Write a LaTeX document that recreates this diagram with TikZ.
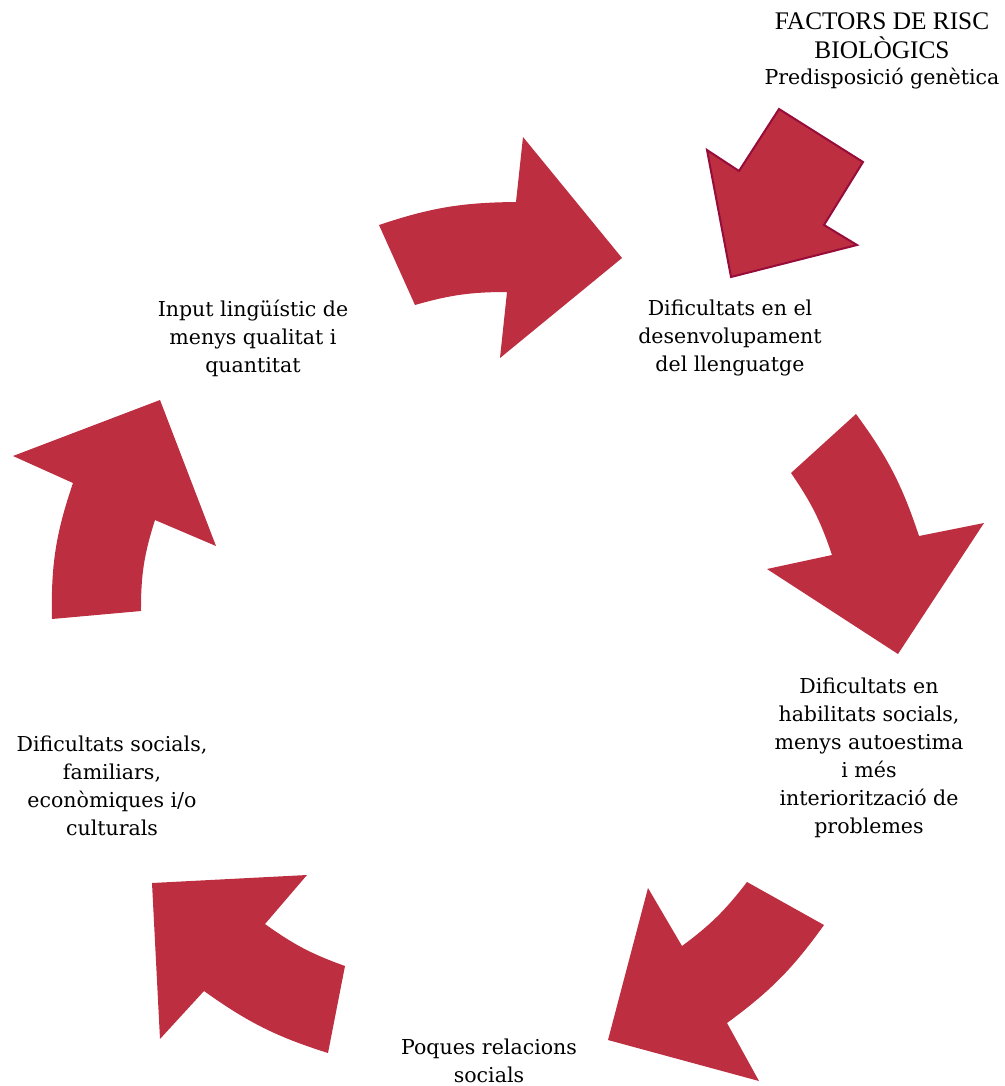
\documentclass[tikz,border=0pt]{standalone}
\usepackage{fontspec}
\setmainfont{DejaVu Serif}
\newfontfamily\timesfont{Liberation Serif}
\usepackage{tikz}
\definecolor{arrowred}{RGB}{188,46,64}
\definecolor{arrowedge}{RGB}{150,12,58}

\begin{document}
\begin{tikzpicture}[x=0.75pt,y=-0.75pt,
    label/.style={align=center,inner sep=0pt,font=\fontsize{15.4}{21}\selectfont},
    block/.style={fill=arrowred}]
    \useasboundingbox (0,0) rectangle (1005,1086);
    % curved arrows of the cycle
    \fill [block] (379,225) to[bend left=9] (516,202) -- (523,137) -- (622,258) -- (500,358) -- (507,292) to[bend right=8] (415,305) -- cycle;
    \fill [block] (856,414) to[bend left=9] (919,536) -- (984,523) -- (898,654) -- (767,569) -- (832,555) to[bend right=8] (791,473) -- cycle;
    \fill [block] (824,925) to[bend left=9] (727,1023) -- (759,1081) -- (608,1040) -- (648,888) -- (682,946) to[bend right=8] (747,882) -- cycle;
    \fill [block] (328,1053) to[bend left=9] (204,991) -- (160,1039) -- (152,883) -- (307,875) -- (265,924) to[bend right=8] (345,966) -- cycle;
    \fill [block] (52,619) to[bend left=10] (73,483) -- (13,456) -- (160,400) -- (216,546) -- (155,520) to[bend right=9] (141,611) -- cycle;
    % straight arrow from the risk factors
    \draw [block,draw=arrowedge,line width=1.5pt] (779,109) -- (863,162) -- (824,225) -- (857,245) -- (731,277) -- (707,150) -- (739,171) -- cycle;
    % texts
    \node [label,font=\timesfont\fontsize{19}{21.75}\selectfont] (risc) at (882,36) {FACTORS DE RISC\\BIOLÒGICS};
    \node [label] (predisp) at (882,79) {Predisposició genètica};
    \node [label] (llenguatge) at (730,338) {Dificultats en el\\desenvolupament\\del llenguatge};
    \node [label] (habilitats) at (869,758) {Dificultats en\\habilitats socials,\\menys autoestima\\i més\\interiorització de\\problemes};
    \node [label] (relacions) at (489,1061) {Poques relacions\\socials};
    \node [label] (socials) at (112,786) {Dificultats socials,\\familiars,\\econòmiques i/o\\culturals};
    \node [label] (input) at (253,338) {Input lingüístic de\\menys qualitat i\\quantitat};
\end{tikzpicture}
\end{document}
